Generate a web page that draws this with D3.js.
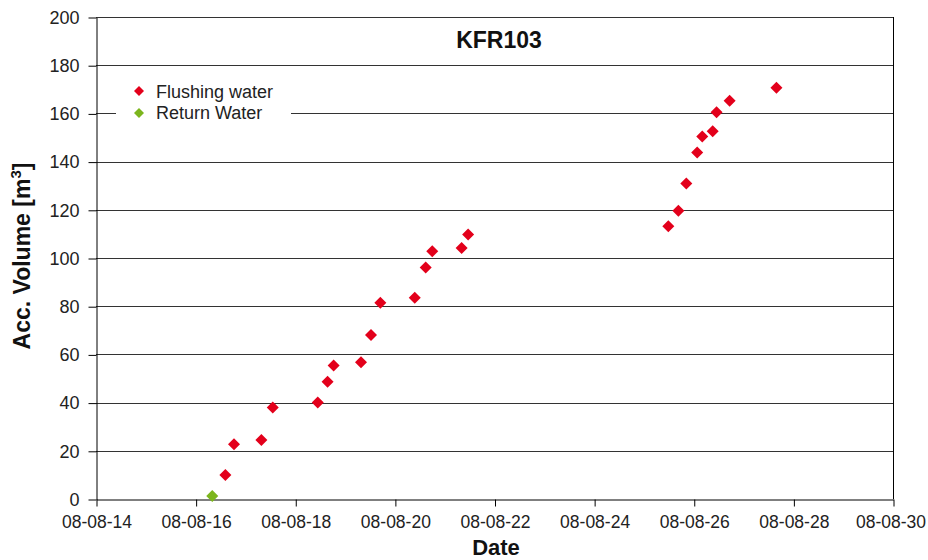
<!DOCTYPE html>
<html>
<head>
<meta charset="utf-8">
<script src="https://cdn.jsdelivr.net/npm/d3@7"></script>
<style>
  html, body { margin: 0; padding: 0; background: #fff; }
  svg { display: block; font-family: "Liberation Sans", Arial, sans-serif; }
</style>
</head>
<body>
<svg id="chart" width="928" height="560"></svg>
<script>
// ---- data ----
const chartTitle = "KFR103";
const xTitle = "Date";
const yTitle = "Acc. Volume [m";
const seriesNames = ["Flushing water", "Return Water"];

const flushingDates = [
  "2008-08-16T14:20", "2008-08-16T18:30", "2008-08-17T07:40", "2008-08-17T13:10",
  "2008-08-18T10:50", "2008-08-18T15:35", "2008-08-18T18:30", "2008-08-19T07:40",
  "2008-08-19T12:30", "2008-08-19T17:00", "2008-08-20T09:35", "2008-08-20T14:50",
  "2008-08-20T18:00", "2008-08-21T08:10", "2008-08-21T11:17", "2008-08-25T11:45",
  "2008-08-25T16:35", "2008-08-25T20:25", "2008-08-26T01:40", "2008-08-26T04:05",
  "2008-08-26T09:07", "2008-08-26T11:00", "2008-08-26T17:17", "2008-08-27T15:50"
];
const flushingValues = [
  10, 22.7, 24.5, 38, 40, 48.6, 55.4, 56.7, 68.1, 81.4, 83.5, 96.1,
  102.8, 104.2, 109.8, 113.2, 119.6, 130.9, 143.8, 150.4, 152.6, 160.5, 165.2, 170.6
];
const returnDates = ["2008-08-16T08:00"];
const returnValues = [1.2];

const xTickDates = ["2008-08-14", "2008-08-16", "2008-08-18", "2008-08-20", "2008-08-22",
                    "2008-08-24", "2008-08-26", "2008-08-28", "2008-08-30"];
const yTickValues = [0, 20, 40, 60, 80, 100, 120, 140, 160, 180, 200];

// ---- layout ----
const W = 928, H = 560;
const plot = { left: 96, right: 893, top: 17, bottom: 499 };
const colors = { flushing: "#e3001b", ret: "#7cb51d", grid: "#333", text: "#222" };

const parse = d3.utcParse("%Y-%m-%dT%H:%M");
const parseDay = d3.utcParse("%Y-%m-%d");
const fmt = d3.utcFormat("%y-%m-%d");

const flushing = flushingDates.map((d, i) => ({ date: parse(d), value: flushingValues[i] }));
const ret = returnDates.map((d, i) => ({ date: parse(d), value: returnValues[i] }));
const xTicks = xTickDates.map(parseDay);

const x = d3.scaleUtc()
  .domain([xTicks[0], xTicks[xTicks.length - 1]])
  .range([plot.left, plot.right]);
const y = d3.scaleLinear().domain([0, 200]).range([plot.bottom, plot.top]);

const svg = d3.select("#chart");

// gridlines
svg.append("g")
  .selectAll("line")
  .data(yTickValues.filter(v => v > 0))
  .join("line")
  .attr("x1", plot.left).attr("x2", plot.right)
  .attr("y1", d => Math.round(y(d)) + 0.5).attr("y2", d => Math.round(y(d)) + 0.5)
  .attr("stroke", colors.grid).attr("stroke-width", 1);

// right border
svg.append("line")
  .attr("x1", Math.round(plot.right) + 0.5).attr("x2", Math.round(plot.right) + 0.5)
  .attr("y1", plot.top).attr("y2", plot.bottom)
  .attr("stroke", "#000");

// y axis
const yAxis = svg.append("g")
  .attr("transform", `translate(${plot.left + 0.5},0.5)`)
  .call(d3.axisLeft(y).tickValues(yTickValues).tickSize(8).tickPadding(9).tickSizeOuter(0));
yAxis.select(".domain").attr("stroke", "#000");
yAxis.selectAll(".tick line").attr("stroke", "#000");
yAxis.selectAll("text").attr("font-size", 18).attr("fill", colors.text)
  .attr("font-family", "'Liberation Sans', Arial, sans-serif");

// x axis
const xAxis = svg.append("g")
  .attr("transform", `translate(0.5,${plot.bottom + 0.5})`)
  .call(d3.axisBottom(x).tickValues(xTicks).tickFormat(fmt).tickSize(7).tickPadding(9).tickSizeOuter(0));
xAxis.select(".domain").attr("stroke", "#000");
xAxis.selectAll(".tick line").attr("stroke", "#000");
xAxis.selectAll("text").attr("font-size", 17.5).attr("fill", colors.text)
  .attr("font-family", "'Liberation Sans', Arial, sans-serif");
// keep the last label inside the page
xAxis.selectAll(".tick text").filter((d, i, n) => i === n.length - 1)
  .attr("text-anchor", "end").attr("dx", 32);

// legend
const legend = svg.append("g");
legend.append("rect")
  .attr("x", 116).attr("y", 76).attr("width", 175).attr("height", 54)
  .attr("fill", "#fff");

const diamond = (s) => `M0,${-s}L${s},0L0,${s}L${-s},0Z`;
const legendItems = [
  { name: seriesNames[0], color: colors.flushing, y: 91 },
  { name: seriesNames[1], color: colors.ret, y: 113 }
];
legendItems.forEach((it, i) => {
  legend.append("path").attr("d", diamond(5)).attr("fill", it.color)
    .attr("transform", `translate(139,${it.y})`);
  legend.append("text").attr("x", 156).attr("y", it.y + 7 - i)
    .attr("font-size", 18).attr("fill", colors.text).text(it.name);
});

// points
svg.append("g").selectAll("path")
  .data(flushing).join("path")
  .attr("d", diamond(6)).attr("fill", colors.flushing)
  .attr("transform", d => `translate(${x(d.date)},${y(d.value)})`);
svg.append("g").selectAll("path")
  .data(ret).join("path")
  .attr("d", diamond(6)).attr("fill", colors.ret)
  .attr("transform", d => `translate(${x(d.date)},${y(d.value)})`);

// titles
svg.append("text").attr("x", 499).attr("y", 48).attr("text-anchor", "middle")
  .attr("font-size", 23).attr("font-weight", "bold").attr("fill", "#111").text(chartTitle);
svg.append("text").attr("x", 496).attr("y", 555).attr("text-anchor", "middle")
  .attr("font-size", 22).attr("font-weight", "bold").attr("fill", "#111").text(xTitle);
const yt = svg.append("text")
  .attr("transform", `translate(30,256) rotate(-90)`)
  .attr("text-anchor", "middle")
  .attr("font-size", 23).attr("font-weight", "bold").attr("fill", "#111");
yt.append("tspan").text(yTitle);
yt.append("tspan").attr("font-size", 15).attr("dy", -9).text("3");
yt.append("tspan").attr("dy", 9).text("]");
</script>
</body>
</html>
